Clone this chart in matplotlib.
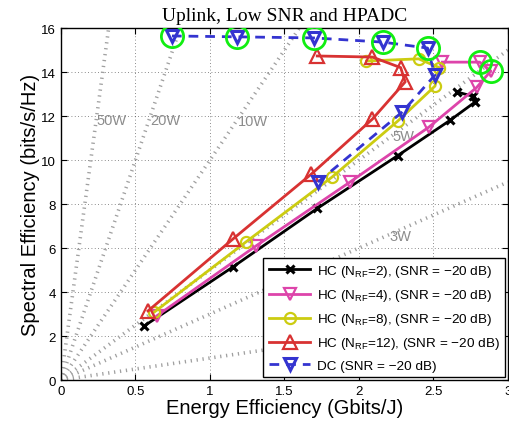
import numpy as np
import matplotlib

matplotlib.use('Agg')
import matplotlib.pyplot as plt

plt.rcParams['font.family'] = ['Liberation Sans', 'DejaVu Sans']
plt.rcParams['mathtext.default'] = 'regular'

# power rays (W), bandwidth 1 GHz -> SE/EE = P
ray_powers = [50, 20, 10, 5, 3, 1]
ray_labels = {50: (0.342, 11.82), 20: (0.698, 11.82), 10: (1.289, 11.77),
              5: (2.295, 11.09), 3: (2.275, 6.55)}

# HC N_RF=2
hc2_ee = [0.557, 1.154, 1.72, 2.26, 2.61, 2.78, 2.765, 2.66]
hc2_se = [2.45, 5.14, 7.8, 10.2, 11.8, 12.64, 12.9, 13.09]
# HC N_RF=4
hc4_ee = [0.644, 1.31, 1.94, 2.47, 2.79, 2.885, 2.81, 2.56]
hc4_se = [2.92, 6.1, 9.0, 11.5, 13.3, 14.05, 14.45, 14.45]
# HC N_RF=8
hc8_ee = [0.626, 1.24, 1.82, 2.26, 2.51, 2.54, 2.40, 2.05]
hc8_se = [3.09, 6.27, 9.23, 11.77, 13.36, 14.2, 14.6, 14.5]
# HC N_RF=12
hc12_ee = [0.584, 1.154, 1.68, 2.09, 2.31, 2.28, 2.09, 1.72]
hc12_se = [3.14, 6.41, 9.36, 11.86, 13.55, 14.2, 14.68, 14.73]
# DC
dc_ee = [1.725, 2.29, 2.51, 2.46, 2.16, 1.70, 1.18, 0.745]
dc_se = [9.0, 12.18, 13.86, 15.09, 15.36, 15.55, 15.6, 15.64]

dc_marked = [3, 4, 5, 6, 7]
hc4_marked = [5, 6]

fig = plt.figure(figsize=(5.1, 4.27), dpi=100)
ax = fig.add_axes([0.1196, 0.1077, 0.8764, 0.8243])

ax.set_xlim(0, 3)
ax.set_ylim(0, 16)

for p in ray_powers:
    xe = min(3.0, 16.0 / p)
    ax.plot([0, xe], [0, p * xe], color='#a0a0a0', lw=2.6, dashes=(0.35, 1.3),
            dash_capstyle='butt', zorder=1)
for p, (tx, ty) in ray_labels.items():
    ax.text(tx, ty, f'{p}W', color='#8c8c8c', fontsize=10.5, ha='center', va='center', zorder=2)

ax.plot(hc2_ee, hc2_se, color='black', lw=2, marker='x', ms=6, mew=2.2,
        label=r'HC (N$_{RF}$=2), (SNR = −20 dB)', zorder=5)
ax.plot(hc4_ee, hc4_se, color='#dd44aa', lw=2, marker='v', ms=9, mew=1.6, mfc='none',
        label=r'HC (N$_{RF}$=4), (SNR = −20 dB)', zorder=5)
ax.plot(hc8_ee, hc8_se, color='#cccc11', lw=2, marker='o', ms=8, mew=1.6, mfc='none',
        label=r'HC (N$_{RF}$=8), (SNR = −20 dB)', zorder=5)
ax.plot(hc12_ee, hc12_se, color='#d83232', lw=2, marker='^', ms=10, mew=1.6, mfc='none',
        label=r'HC (N$_{RF}$=12), (SNR = −20 dB)', zorder=5)
ax.plot(dc_ee, dc_se, color='#3434d0', lw=2, dashes=(3.5, 2.5), marker='v', ms=9, mew=2.2,
        mfc='none', label='DC (SNR = −20 dB)', zorder=6)

ax.plot([dc_ee[i] for i in dc_marked], [dc_se[i] for i in dc_marked], 'o', ms=16,
        mfc='none', mec='#11ee11', mew=2, zorder=7)
ax.plot([hc4_ee[i] for i in hc4_marked], [hc4_se[i] for i in hc4_marked], 'o', ms=16,
        mfc='none', mec='#11ee11', mew=2, zorder=7)

ax.set_xticks([0, 0.5, 1, 1.5, 2, 2.5, 3])
ax.set_xticklabels(['0', '0.5', '1', '1.5', '2', '2.5', '3'])
ax.set_yticks(range(0, 17, 2))
ax.tick_params(direction='in', top=True, right=True, labelsize=9.5, length=4)
ax.grid(True, color='black', linestyle=(0, (1, 3)), lw=0.6, alpha=0.6)
ax.set_axisbelow(True)
for s in ax.spines.values():
    s.set_linewidth(1.0)

ax.set_xlabel('Energy Efficiency (Gbits/J)', fontsize=14.5, labelpad=1)
ax.set_ylabel('Spectral Efficiency (bits/s/Hz)', fontsize=14.5, labelpad=1)
ax.set_title('Uplink, Low SNR and HPADC', fontsize=14, family='Liberation Serif', pad=6)

leg = ax.legend(loc='lower right', fontsize=9.7, handlelength=3.1, framealpha=1,
                fancybox=False, edgecolor='black', borderaxespad=0.2, labelspacing=0.6,
                handletextpad=0.5)
leg.get_frame().set_linewidth(1.0)
leg.set_zorder(10)

plt.savefig('out.png', dpi=100)
